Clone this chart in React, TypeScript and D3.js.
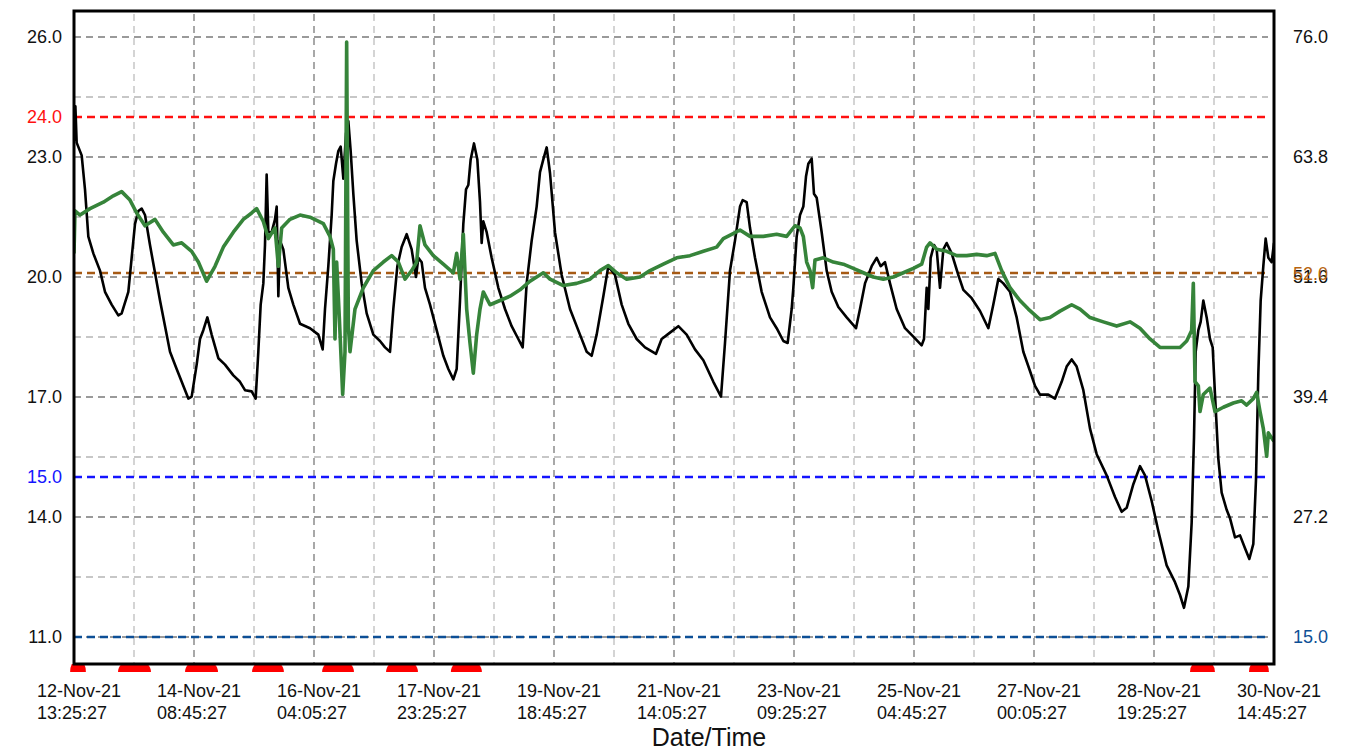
import React, { useEffect, useRef } from "react";
import * as d3 from "d3";

// logger run start and tick step (hours)
const startTime = new Date(2021, 10, 12, 13, 25, 27);
const tickStepHours = 43 + 20 / 60;
const tickCount = 10;
const spanHours = tickStepHours * tickCount;

// left axis (temperature) labels and right axis (humidity) labels
const leftTicks = [26.0, 23.0, 20.0, 17.0, 14.0, 11.0];
const rightTicks = [76.0, 63.8, 51.6, 39.4, 27.2];

// alarm limits
const tempHigh = 24.0;
const tempLow = 15.0;
const humHigh = 52.0;
const humLow = 15.0;

// [hours since start, value]
const temperature: [number, number][] = [
  [0, 23.4], [0.5, 24.27], [0.96, 23.36], [2.77, 23.04], [3.97, 22.19], [5.18, 21.01], [6.98, 20.59],
  [9.39, 20.16], [11.19, 19.63], [13.6, 19.31], [16.01, 19.04], [17.21, 19.09], [19.62, 19.63],
  [20.82, 20.48], [22.03, 21.33], [23.23, 21.65], [24.44, 21.71], [25.64, 21.55], [27.44, 20.8],
  [31.06, 19.41], [34.67, 18.13], [37.07, 17.7], [41.29, 16.96], [42.49, 17.01], [44.3, 17.81],
  [45.5, 18.45], [46.7, 18.67], [48.15, 18.99], [49.71, 18.56], [52.12, 17.97], [54.53, 17.81],
  [57.54, 17.54], [59.94, 17.38], [61.75, 17.17], [64.16, 17.14], [65.6, 16.96], [66.56, 18.13],
  [67.41, 19.31], [68.37, 19.84], [68.97, 20.8], [69.57, 22.56], [70.18, 21.12], [71.38, 21.12],
  [72.58, 21.44], [73.19, 21.76], [73.79, 19.52], [74.39, 20.91], [75.59, 20.69], [77.4, 19.73],
  [79.2, 19.31], [81.61, 18.83], [85.22, 18.72], [88.23, 18.56], [89.8, 18.19], [90.64, 19.2],
  [91.84, 20.27], [93.05, 21.55], [93.65, 22.4], [94.61, 22.83], [95.45, 23.15], [96.3, 23.26],
  [97.26, 22.46], [98.22, 23.58], [99.07, 23.9], [99.91, 23.15], [100.87, 22.08], [102.07, 20.91],
  [103.88, 19.84], [105.69, 19.09], [108.09, 18.56], [110.5, 18.4], [112.31, 18.24], [114.11, 18.13],
  [115.31, 19.2], [116.76, 20.27], [118.32, 20.75], [120.13, 21.07], [121.93, 20.69], [123.5, 20.0],
  [124.34, 20.48], [125.55, 20.37], [126.75, 19.73], [128.56, 19.31], [130.96, 18.67], [133.37, 18.03],
  [135.18, 17.7], [136.98, 17.44], [138.19, 17.7], [139.39, 19.41], [140.59, 21.33], [141.56, 22.19],
  [142.4, 22.3], [143.24, 22.94], [144.44, 23.34], [145.65, 22.94], [146.61, 21.87], [147.21, 20.85],
  [147.81, 21.39], [149.02, 21.12], [150.82, 20.48], [153.23, 19.73], [155.64, 19.2], [158.04, 18.77],
  [160.45, 18.45], [162.02, 18.24], [163.46, 19.84], [165.27, 20.91], [167.07, 21.76], [168.28, 22.62],
  [169.48, 22.94], [170.69, 23.24], [171.89, 22.6], [173.69, 21.12], [176.1, 20.05], [179.11, 19.2],
  [182.72, 18.56], [185.13, 18.13], [186.94, 18.03], [188.74, 18.56], [191.15, 19.52], [192.95, 20.27],
  [195.36, 20.05], [197.77, 19.31], [200.18, 18.83], [203.19, 18.45], [206.19, 18.24], [210.17, 18.08],
  [212.21, 18.45], [215.22, 18.61], [218.23, 18.77], [221.24, 18.56], [224.25, 18.19], [227.26, 17.92],
  [230.87, 17.38], [233.64, 17.01], [235.08, 18.35], [236.89, 20.16], [238.69, 20.91], [240.5, 21.76],
  [241.46, 21.92], [242.91, 21.87], [244.11, 21.23], [245.92, 20.48], [248.32, 19.63], [251.33, 18.99],
  [253.74, 18.72], [256.15, 18.4], [257.71, 18.35], [259.16, 19.2], [259.76, 19.73], [260.96, 21.01],
  [262.17, 21.55], [263.37, 21.76], [264.33, 22.51], [265.18, 22.83], [266.38, 22.96], [267.22, 22.08],
  [268.19, 21.98], [269.99, 21.12], [271.8, 20.16], [273.6, 19.63], [276.01, 19.25], [279.02, 18.99],
  [282.39, 18.72], [283.83, 19.2], [285.64, 19.84], [288.05, 20.27], [289.85, 20.48], [291.3, 20.27],
  [292.86, 20.37], [294.67, 19.84], [297.07, 19.2], [300.08, 18.72], [303.09, 18.51], [306.1, 18.29],
  [306.94, 18.45], [307.91, 19.73], [308.51, 19.2], [309.35, 20.48], [310.56, 20.8], [311.52, 20.69],
  [312.72, 19.73], [313.93, 20.69], [315.13, 20.85], [316.94, 20.59], [319.34, 20.05], [321.15, 19.68],
  [324.16, 19.47], [327.17, 19.15], [330.18, 18.72], [331.98, 19.31], [333.79, 19.95], [335.59, 19.84],
  [338.0, 19.63], [340.41, 18.99], [342.81, 18.13], [345.22, 17.65], [347.03, 17.28], [348.83, 17.06],
  [351.84, 17.06], [354.25, 16.96], [356.66, 17.38], [358.46, 17.76], [360.27, 17.94], [362.07, 17.76],
  [364.48, 17.17], [366.89, 16.21], [369.3, 15.57], [372.91, 15.04], [375.92, 14.5], [378.32, 14.13],
  [380.13, 14.23], [382.54, 14.82], [384.94, 15.27], [386.75, 15.04], [389.16, 14.4], [391.56, 13.65],
  [394.57, 12.79], [397.58, 12.37], [399.39, 12.05], [400.83, 11.73], [402.4, 12.26], [403.6, 13.86],
  [404.45, 16.0], [405.05, 18.13], [406.01, 18.67], [406.85, 18.88], [407.81, 19.41], [409.02, 18.99],
  [410.22, 18.45], [411.19, 18.24], [412.03, 17.06], [413.23, 15.46], [414.43, 14.61], [416.24, 14.18],
  [417.44, 13.97], [419.25, 13.49], [421.06, 13.54], [422.86, 13.22], [424.43, 12.95], [425.87, 13.33],
  [426.83, 14.93], [427.68, 17.6], [428.52, 19.41], [429.48, 20.27], [430.32, 20.96], [431.29, 20.48],
  [432.49, 20.37], [433.33, 20.85],
];

const humidity: [number, number][] = [
  [0, 54.0], [0.36, 58.33], [2.17, 57.9], [5.78, 58.55], [10.59, 59.2], [14.2, 59.85], [17.21, 60.28],
  [20.22, 59.42], [22.63, 58.11], [25.64, 56.81], [29.25, 57.46], [32.26, 56.16], [35.87, 54.86],
  [38.88, 55.07], [42.49, 54.21], [44.9, 53.12], [47.91, 51.17], [50.92, 52.69], [53.93, 54.64],
  [57.54, 56.16], [61.15, 57.46], [64.16, 58.11], [65.96, 58.55], [68.37, 57.24], [70.18, 55.51],
  [72.58, 56.59], [73.79, 52.69], [74.99, 56.59], [78.0, 57.46], [81.61, 57.9], [85.22, 57.68],
  [90.04, 57.03], [92.44, 55.72], [93.65, 54.42], [94.25, 45.3], [94.85, 53.12], [95.81, 47.48],
  [97.02, 39.66], [97.86, 44.0], [98.46, 75.48], [99.07, 46.61], [99.67, 44.0], [101.47, 48.34],
  [104.48, 50.51], [108.09, 52.25], [111.7, 53.12], [114.71, 53.77], [117.12, 53.12], [119.53, 51.38],
  [121.93, 52.25], [123.74, 53.12], [124.94, 56.81], [126.75, 54.86], [129.76, 53.77], [133.37, 52.9],
  [136.98, 52.03], [138.19, 54.0], [139.39, 51.38], [140.59, 55.94], [141.8, 48.34], [143.0, 44.87],
  [144.2, 41.83], [145.41, 45.74], [146.61, 48.34], [147.81, 50.08], [150.22, 48.78], [153.83, 49.21],
  [157.44, 49.65], [161.06, 50.3], [164.67, 51.17], [169.48, 52.03], [171.89, 51.38], [176.7, 50.73],
  [181.52, 50.95], [186.33, 51.38], [189.94, 52.25], [192.95, 52.77], [195.96, 52.03], [199.57, 51.38],
  [204.39, 51.6], [208.0, 52.25], [212.81, 52.9], [217.63, 53.55], [222.44, 53.77], [227.26, 54.21],
  [232.07, 54.64], [234.48, 55.51], [237.49, 55.94], [240.5, 56.38], [244.11, 55.73], [248.92, 55.73],
  [253.74, 55.94], [257.35, 55.73], [258.56, 56.16], [260.36, 56.81], [262.17, 56.59], [263.37, 55.72],
  [264.57, 53.12], [265.78, 52.25], [266.74, 50.51], [267.58, 53.34], [270.59, 53.55], [274.2, 53.12],
  [277.81, 52.9], [281.43, 52.47], [285.04, 52.03], [288.65, 51.6], [292.26, 51.38], [295.87, 51.6],
  [299.48, 52.03], [303.09, 52.47], [306.1, 52.9], [307.91, 54.64], [309.11, 55.07], [311.52, 54.42],
  [315.13, 54.21], [318.74, 53.77], [322.35, 53.77], [325.96, 53.9], [329.57, 53.77], [332.58, 54.0],
  [334.99, 52.25], [338.0, 50.51], [341.61, 49.21], [344.62, 48.34], [348.83, 47.26], [352.44, 47.48],
  [356.06, 48.13], [360.27, 48.78], [363.28, 48.34], [366.89, 47.48], [371.7, 47.04], [376.52, 46.61],
  [381.33, 47.04], [384.94, 46.39], [388.55, 45.3], [392.17, 44.44], [395.78, 44.44], [399.39, 44.44],
  [401.8, 45.09], [403.6, 46.17], [404.2, 50.95], [404.81, 40.96], [406.01, 40.53], [406.61, 37.92],
  [407.81, 39.66], [410.22, 40.31], [412.03, 37.92], [415.04, 38.36], [418.65, 38.79], [421.66, 39.01],
  [423.46, 38.58], [425.87, 39.23], [427.07, 39.88], [428.28, 37.92], [429.48, 36.19], [430.69, 33.37],
  [431.29, 35.75], [433.33, 34.89],
];

// alarm events [start hour, end hour]
const alarmEvents: [number, number][] = [
  [-1.4, 4.3], [15.9, 27.8], [40.1, 52.0], [64.3, 75.8], [89.6, 101.1],
  [112.7, 124.2], [136.1, 147.3], [403.0, 412.0], [424.3, 431.5],
];

const W = 1353;
const H = 751;
const margin = { top: 11, right: 79, bottom: 87, left: 74 };
const font = "'Liberation Sans', Arial, sans-serif";

const hoursToDate = (h: number) => new Date(startTime.getTime() + Math.round(h * 3600 * 1000));

function App() {
  const ref = useRef<SVGSVGElement>(null);

  useEffect(() => {
    const svg = d3.select(ref.current);
    svg.selectAll("*").remove();

    const x0 = margin.left;
    const x1 = W - margin.right;
    const yTop = margin.top;
    const yBot = H - margin.bottom;

    const x = d3.scaleTime()
      .domain([startTime, hoursToDate(spanHours)])
      .range([x0, x1]);
    const yL = d3.scaleLinear().domain([11, 26]).range([637, 37]);
    const yR = d3.scaleLinear().domain([15, 76]).range([637, 37]);

    svg.append("rect").attr("width", W).attr("height", H).attr("fill", "white");

    svg.append("defs").append("clipPath").attr("id", "plotClip")
      .append("rect")
      .attr("x", x0).attr("y", yTop)
      .attr("width", x1 - x0).attr("height", yBot - yTop);

    const grid = svg.append("g");

    // vertical grid: labelled ticks darker, half steps lighter
    for (let k = 1; k < tickCount * 2; k++) {
      const gx = x(hoursToDate(k * tickStepHours / 2));
      grid.append("line")
        .attr("x1", gx).attr("x2", gx)
        .attr("y1", yTop + 3).attr("y2", yBot)
        .attr("stroke", k % 2 === 0 ? "#7a7a7a" : "#bdbdbd")
        .attr("stroke-width", 1.3)
        .attr("stroke-dasharray", "7,5");
    }
    // horizontal grid
    for (let k = 0; k <= 10; k++) {
      const v = 26 - k * 1.5;
      const gy = yL(v);
      grid.append("line")
        .attr("x1", x0).attr("x2", x1 - 6)
        .attr("y1", gy).attr("y2", gy)
        .attr("stroke", k % 2 === 0 ? "#7a7a7a" : "#b5b5b5")
        .attr("stroke-width", 1.3)
        .attr("stroke-dasharray", "7,5");
    }

    // alarm limit lines
    const limits = [
      { y: yL(tempHigh), color: "#ff1010" },
      { y: yL(tempLow), color: "#1414ff" },
      { y: yR(humHigh), color: "#a65a14" },
      { y: yR(humLow), color: "#0d4f96" },
    ];
    limits.forEach((l) => {
      svg.append("line")
        .attr("x1", x0).attr("x2", x1 - 6)
        .attr("y1", l.y).attr("y2", l.y)
        .attr("stroke", l.color)
        .attr("stroke-width", 2.5)
        .attr("stroke-dasharray", "8,5");
    });

    const plot = svg.append("g").attr("clip-path", "url(#plotClip)");

    const tempLine = d3.line<[number, number]>()
      .x((d) => x(hoursToDate(d[0])))
      .y((d) => yL(d[1]));
    const humLine = d3.line<[number, number]>()
      .x((d) => x(hoursToDate(d[0])))
      .y((d) => yR(d[1]));

    plot.append("path")
      .datum(temperature)
      .attr("d", tempLine)
      .attr("fill", "none")
      .attr("stroke", "#000")
      .attr("stroke-width", 2.6)
      .attr("stroke-linejoin", "round");

    plot.append("path")
      .datum(humidity)
      .attr("d", humLine)
      .attr("fill", "none")
      .attr("stroke", "#36843a")
      .attr("stroke-width", 3.6)
      .attr("stroke-linejoin", "round");

    // alarm markers under the frame
    svg.append("defs").append("clipPath").attr("id", "markClip")
      .append("rect")
      .attr("x", 0).attr("y", yBot).attr("width", W).attr("height", 8);
    const marks = svg.append("g").attr("clip-path", "url(#markClip)");
    alarmEvents.forEach(([a, b]) => {
      const xa = x(hoursToDate(a));
      const xb = x(hoursToDate(b));
      marks.append("ellipse")
        .attr("cx", (xa + xb) / 2)
        .attr("cy", yBot + 8)
        .attr("rx", (xb - xa) / 2)
        .attr("ry", 13)
        .attr("fill", "#ff0000");
    });

    // frame
    svg.append("rect")
      .attr("x", x0).attr("y", yTop)
      .attr("width", x1 - x0).attr("height", yBot - yTop)
      .attr("fill", "none")
      .attr("stroke", "#000")
      .attr("stroke-width", 3);

    // left labels
    leftTicks.forEach((v) => {
      svg.append("text")
        .attr("x", 62).attr("y", yL(v))
        .attr("dy", "0.36em")
        .attr("text-anchor", "end")
        .style("font", `18px ${font}`)
        .attr("fill", "#111")
        .text(v.toFixed(1));
    });
    [{ v: tempHigh, c: "#ff1010" }, { v: tempLow, c: "#1414ff" }].forEach((t) => {
      svg.append("text")
        .attr("x", 62).attr("y", yL(t.v))
        .attr("dy", "0.36em")
        .attr("text-anchor", "end")
        .style("font", `18px ${font}`)
        .attr("fill", t.c)
        .text(t.v.toFixed(1));
    });

    // right labels
    rightTicks.forEach((v) => {
      svg.append("text")
        .attr("x", 1293).attr("y", yR(v))
        .attr("dy", "0.36em")
        .style("font", `18px ${font}`)
        .attr("fill", "#111")
        .text(v.toFixed(1));
    });
    [{ v: humHigh, c: "#b8650f" }, { v: humLow, c: "#0d4f96" }].forEach((t) => {
      svg.append("text")
        .attr("x", 1293).attr("y", yR(t.v))
        .attr("dy", "0.36em")
        .style("font", `18px ${font}`)
        .attr("fill", t.c)
        .text(t.v.toFixed(1));
    });

    // bottom date labels
    const fmtDate = d3.timeFormat("%d-%b-%y");
    const fmtTime = d3.timeFormat("%H:%M:%S");
    for (let k = 0; k <= tickCount; k++) {
      const d = hoursToDate(k * tickStepHours);
      const tx = x(d) - 37;
      const t = svg.append("text")
        .attr("x", tx)
        .style("font", `18px ${font}`)
        .attr("fill", "#111");
      t.append("tspan").attr("x", tx).attr("y", 697).text(fmtDate(d));
      t.append("tspan").attr("x", tx).attr("y", 719).text(fmtTime(d));
    }

    svg.append("text")
      .attr("x", (x0 + x1) / 2 + 35)
      .attr("y", 746)
      .attr("text-anchor", "middle")
      .style("font", `25px ${font}`)
      .attr("fill", "#111")
      .text("Date/Time");
  }, []);

  return (
    <svg
      ref={ref}
      width={W}
      height={H}
      style={{ position: "absolute", left: 0, top: 0 }}
    />
  );
}

export default App;
